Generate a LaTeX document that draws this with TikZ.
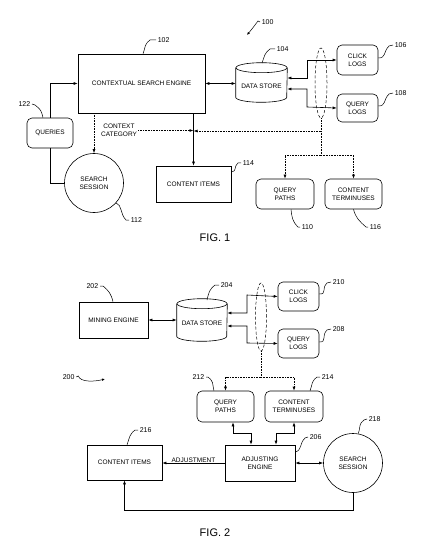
\documentclass[tikz,border=0pt]{standalone}
\usepackage{fontspec}
\setmainfont{Liberation Sans}
\usetikzlibrary{arrows.meta,shapes.geometric}
\newcommand{\dgboxfont}{\fontsize{6.5}{7.6}\selectfont}
\begin{document}
\begin{tikzpicture}[x=1pt,y=-1pt,
  line width=0.6pt,
  >={Latex[length=4pt,width=3pt]},
  tbox/.style={draw, rectangle, inner sep=1pt, align=center, font=\dgboxfont},
  rbox/.style={tbox, rounded corners=5pt},
  plain/.style={inner sep=1pt, align=center, font=\dgboxfont},
  ses/.style={draw, circle, minimum size=59pt, inner sep=0pt, align=center, font=\dgboxfont},
  dbox/.style={rectangle, inner sep=1pt, align=center, font=\dgboxfont},
  ring/.style={draw, densely dashed, ellipse, inner sep=0pt, line width=0.5pt},
  refnum/.style={font=\fontsize{7}{8}\selectfont, inner sep=0.5pt},
  lead/.style={line width=0.5pt},
  dots/.style={densely dotted},
  figl/.style={font=\fontsize{11}{13}\selectfont, inner sep=0pt}]
\fill[white] (0,0) rectangle (428,553);
\useasboundingbox (0,0) rectangle (428,553);

% ===== FIG. 1 =====
\node[tbox, minimum width=127pt, minimum height=59pt] (cse) at (141.5,83.5) {CONTEXTUAL SEARCH ENGINE};
\node[dbox, minimum width=51pt, minimum height=32pt] (ds1) at (261.5,86) {DATA STORE};
\draw ([yshift=2pt]ds1.north west) -- ([yshift=5pt]ds1.south west)
  arc[start angle=180, end angle=360, x radius=25.5pt, y radius=5pt]
  -- ([yshift=2pt]ds1.north east);
\draw ([yshift=2pt]ds1.north) ellipse[x radius=25.5pt, y radius=5pt];
\node[rbox, minimum width=41pt, minimum height=30pt] (cl1) at (357.5,60) {CLICK\\LOGS};
\node[rbox, minimum width=41pt, minimum height=28pt] (ql1) at (357.5,108) {QUERY\\LOGS};
\node[ring, minimum width=12pt, minimum height=70pt] (el1) at (321,83) {};
\node[rbox, minimum width=46pt, minimum height=30pt] (q1) at (50,133) {QUERIES};
\node[ses] (ss1) at (94,183) {SEARCH\\SESSION};
\node[tbox, minimum width=75pt, minimum height=36pt] (ci1) at (193.5,184) {CONTENT ITEMS};
\node[plain] (cc1) at (119,130.5) {CONTEXT\\CATEGORY};
\node[rbox, minimum width=58pt, minimum height=30pt] (qp1) at (285,194) {QUERY\\PATHS};
\node[rbox, minimum width=57pt, minimum height=30pt] (ct1) at (353.5,194) {CONTENT\\TERMINUSES};
\node[figl] (fig1) at (215,238) {FIG. 1};

\coordinate (b1) at (307,60);
\coordinate (b2) at (307,107);
\coordinate (br1) at (321,155);
\draw[<->] (cse.east) -- (cse.east -| ds1.west);
\draw[<->] (ds1.east |- 0,78) -| (b1) -- (cl1.west);
\draw[<->] (ds1.east |- 0,89) -| (b2) -- (ql1.west);
\draw[dots] (el1.south) -- (br1);
\draw[dots,->] (br1) -| (qp1.north);
\draw[dots,->] (br1) -| (ct1.north);
\draw[dots,->] (el1.south |- 0,131) -- (ci1.north |- 0,131);
\draw[dots,->] (cc1.east) -- (cc1.east -| ci1.north);
\draw[->] (cse.south -| ci1.north) -- (ci1.north);
\draw[dots,->] (cse.south -| ss1.north) -- (ss1.north);
\draw[->] (q1.north) |- (cse.west);
\draw (q1.south) |- (ss1.west);

% reference numbers fig 1
\node[refnum, anchor=west] (l100) at (261,22) {100};
\node[refnum, anchor=west] (l102) at (157,40) {102};
\node[refnum, anchor=west] (l104) at (276,49) {104};
\node[refnum, anchor=west] (l106) at (394,45) {106};
\node[refnum, anchor=west] (l108) at (394,93) {108};
\node[refnum, anchor=east] (l122) at (31,104) {122};
\node[refnum, anchor=west] (l112) at (130,220) {112};
\node[refnum, anchor=west] (l114) at (242,163) {114};
\node[refnum, anchor=west] (l110) at (301,227) {110};
\node[refnum, anchor=west] (l116) at (369,227) {116};

\draw[lead,-{Latex[length=3pt,width=2.5pt]}] ([xshift=-1pt]l100.west) -- ++(-2,-1) .. controls +(-3,4) and +(5,-6) .. (247,35);
\draw[lead] (cse.north -| 143,0) .. controls +(3,-8) and +(-6,5) .. (150,40) -- ([xshift=-1pt]l102.west);
\draw[lead] (262,63) .. controls +(3,-8) and +(-6,5) .. (270,49) -- ([xshift=-1pt]l104.west);
\draw[lead] (cl1.east |- 0,58) .. controls +(8,0) and +(-6,6) .. (389,46) -- ([xshift=-1pt]l106.west);
\draw[lead] (ql1.east |- 0,106) .. controls +(8,0) and +(-6,6) .. (389,94) -- ([xshift=-1pt]l108.west);
\draw[lead] (q1.north -| 43,0) .. controls +(-2,-8) and +(6,5) .. (35,105) -- ([xshift=1pt]l122.east);
\draw[lead] (ss1.-42) .. controls +(6,2) and +(-6,-6) .. (126,220) -- ([xshift=-1pt]l112.west);
\draw[lead] (ci1.east |- 0,172) .. controls +(6,-1) and +(-5,5) .. (238,163) -- ([xshift=-1pt]l114.west);
\draw[lead] (qp1.south -| 291,0) .. controls +(1,8) and +(-6,-6) .. (298,227) -- ([xshift=-1pt]l110.west);
\draw[lead] (ct1.south) .. controls +(2,8) and +(-7,-6) .. (366,227) -- ([xshift=-1pt]l116.west);

% ===== FIG. 2 =====
\node[tbox, minimum width=69pt, minimum height=36pt] (me) at (113.5,320) {MINING ENGINE};
\node[dbox, minimum width=50pt, minimum height=35pt] (ds2) at (202,323.5) {DATA STORE};
\draw ([yshift=2pt]ds2.north west) -- ([yshift=5pt]ds2.south west)
  arc[start angle=180, end angle=360, x radius=25pt, y radius=5pt]
  -- ([yshift=2pt]ds2.north east);
\draw ([yshift=2pt]ds2.north) ellipse[x radius=25pt, y radius=5pt];
\node[rbox, minimum width=41pt, minimum height=29pt] (cl2) at (298.5,296.5) {CLICK\\LOGS};
\node[rbox, minimum width=41pt, minimum height=29pt] (ql2) at (298.5,343.5) {QUERY\\LOGS};
\node[ring, minimum width=11pt, minimum height=68pt] (el2) at (261,317) {};
\node[rbox, minimum width=57pt, minimum height=31pt] (qp2) at (225.5,406.5) {QUERY\\PATHS};
\node[rbox, minimum width=58pt, minimum height=31pt] (ct2) at (294,406.5) {CONTENT\\TERMINUSES};
\node[tbox, minimum width=70pt, minimum height=36pt] (ae) at (260,463) {ADJUSTING\\ENGINE};
\node[ses] (ss2) at (353,463) {SEARCH\\SESSION};
\node[tbox, minimum width=75pt, minimum height=35pt] (ci2) at (124.5,462.5) {CONTENT ITEMS};
\node[figl] (fig2) at (215,533) {FIG. 2};

\coordinate (b3) at (247,295);
\coordinate (b4) at (247,343);
\coordinate (br2) at (261,377);
\coordinate (k1) at (233,433);
\coordinate (k2) at (251,433);
\coordinate (k3) at (276,433);
\coordinate (k4) at (124.5,510);
\draw[<->] (me.east) -- (me.east -| ds2.west);
\draw[<->] (ds2.east |- 0,313) -| (b3) -- (cl2.west);
\draw[<->] (ds2.east |- 0,326) -| (b4) -- (ql2.west);
\draw[dots] (el2.south) -- (br2);
\draw[dots,->] (br2) -| (qp2.north);
\draw[dots,->] (br2) -| (ct2.north);
\draw[<->] (qp2.south -| k1) -- (k1) -- (k2) -- (k2 |- ae.north);
\draw[<->] (ct2.south) |- (k3) -- (k3 |- ae.north);
\draw[<->] (ae.east) -- (ss2.west);
\draw[->] (ae.west) -- node[plain, above, yshift=-0.5pt] (adjl) {ADJUSTMENT} (ae.west -| ci2.east);
\draw[->] (ss2.south) |- (k4) -- (ci2.south);

% reference numbers fig 2
\node[refnum, anchor=east] (l202) at (99,286) {202};
\node[refnum, anchor=west] (l204) at (220,285) {204};
\node[refnum, anchor=west] (l210) at (332,282) {210};
\node[refnum, anchor=west] (l208) at (332,329) {208};
\node[refnum, anchor=east] (l212) at (205,377) {212};
\node[refnum, anchor=west] (l214) at (321,377) {214};
\node[refnum, anchor=west] (l200) at (62,377) {200};
\node[refnum, anchor=west] (l216) at (139,430) {216};
\node[refnum, anchor=west] (l206) at (309,437) {206};
\node[refnum, anchor=west] (l218) at (368,419) {218};

\draw[lead] (me.north -| 113,0) .. controls +(-2,-8) and +(6,5) .. (103,286) -- ([xshift=1pt]l202.east);
\draw[lead] (207,300) .. controls +(2,-8) and +(-6,5) .. (215,285) -- ([xshift=-1pt]l204.west);
\draw[lead] (cl2.east |- 0,294) .. controls +(8,0) and +(-6,6) .. (327,283) -- ([xshift=-1pt]l210.west);
\draw[lead] (ql2.east |- 0,342) .. controls +(8,0) and +(-6,6) .. (327,330) -- ([xshift=-1pt]l208.west);
\draw[lead] (qp2.north -| 214,0) .. controls +(-2,-8) and +(6,5) .. (208,377) -- ([xshift=1pt]l212.east);
\draw[lead] (ct2.north -| 310,0) .. controls +(3,-8) and +(-6,5) .. (317,377) -- ([xshift=-1pt]l214.west);
\draw[lead,-{Latex[length=3pt,width=2.5pt]}] ([xshift=1pt]l200.east) -- ++(2,-1) .. controls +(2,6) and +(-12,3) .. (105,379);
\draw[lead] (ci2.north -| 127,0) .. controls +(3,-8) and +(-6,5) .. (135,430) -- ([xshift=-1pt]l216.west);
\draw[lead] (ae.east |- 0,452) .. controls +(7,-2) and +(-6,6) .. (305,438) -- ([xshift=-1pt]l206.west);
\draw[lead] (ss2.80) .. controls +(3,-8) and +(-6,5) .. (364,420) -- ([xshift=-1pt]l218.west);
\end{tikzpicture}
\end{document}
